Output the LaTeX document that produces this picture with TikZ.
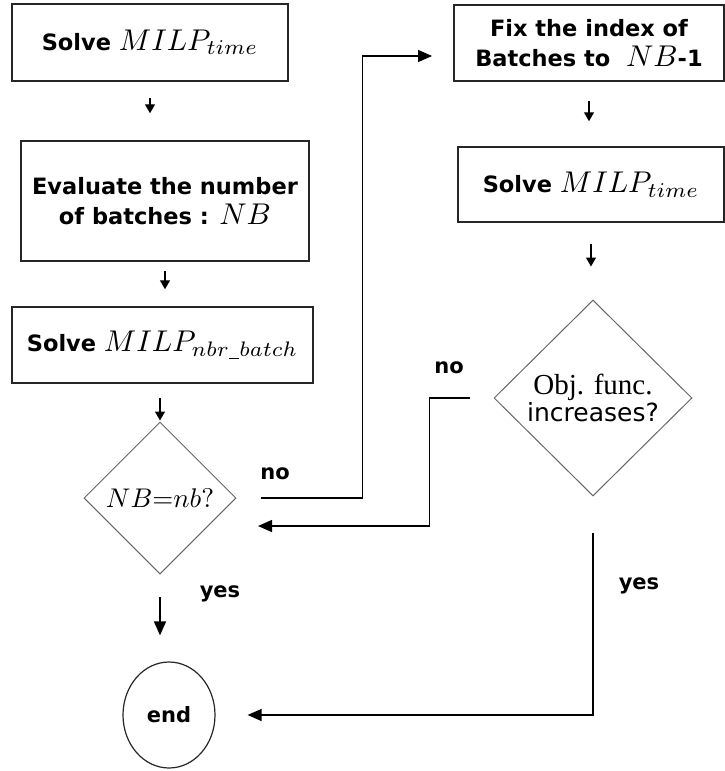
\documentclass[tikz,border=0pt]{standalone}
\usepackage{fontspec}
\usepackage{graphicx}
\usetikzlibrary{arrows.meta,shapes.geometric}
\newfontfamily\boxfont{DejaVu Sans}
\newfontfamily\serfont{Liberation Serif}
\newcommand{\bigmath}[2][3]{{\fontsize{10}{12}\selectfont\scalebox{#1}{$#2$}}}
\newcommand{\ul}{\rule[-1pt]{3.5pt}{0.35pt}}

\tikzset{
  stepbox/.style={draw=black!85, line width=1.5pt, rectangle, inner sep=0pt,
    align=center, font=\boxfont\bfseries\fontsize{22.5}{30}\selectfont},
  test/.style={draw=black!60, line width=1pt, diamond, inner sep=0pt, aspect=1},
  flow/.style={line width=1.4pt, -{Triangle[length=9pt,width=10pt]}},
  link/.style={line width=1.4pt, -{Triangle[length=14pt,width=12pt]}},
  lbl/.style={font=\boxfont\bfseries\fontsize{21}{24}\selectfont}
}

\begin{document}
\begin{tikzpicture}[x=1pt,y=-1pt]
  \useasboundingbox (0,0) rectangle (725,771);

  % left column
  \node[stepbox, minimum width=276pt, minimum height=77pt] (solveT) at (150,42.5)
    {Solve \bigmath{MILP_{time}}};
  \node[stepbox, minimum width=288pt, minimum height=120pt] (evalNB) at (165,201)
    {Evaluate the number\\of batches : \bigmath{NB}};
  \node[stepbox, minimum width=301pt, minimum height=76pt] (solveNB) at (162.5,345)
    {Solve \bigmath{MILP_{nbr\ul batch}}};
  \node[test, minimum width=152pt, minimum height=152pt] (isNB) at (160,498)
    {\bigmath[2.7]{NB{=}nb?}};
  \node[draw=black!85, line width=1.2pt, ellipse, minimum width=92pt, minimum height=106pt,
    font=\boxfont\bfseries\fontsize{21}{24}\selectfont] (endN) at (169,715) {end};

  % right column
  \node[stepbox, minimum width=270pt, minimum height=76pt] (fixNB) at (589,43)
    {Fix the index of\\Batches to\ \ \bigmath{NB}-1};
  \node[stepbox, minimum width=266pt, minimum height=75pt] (solveT2) at (591,184.5)
    {Solve \bigmath{MILP_{time}}};
  \node[test, minimum width=198pt, minimum height=196pt, align=center] (incr) at (593,398)
    {{\serfont\fontsize{29}{32}\selectfont Obj. func.}\\
     {\boxfont\fontsize{25}{30}\selectfont increases?}};

  % arrows
  \draw[flow, shorten <=16pt, shorten >=27pt] (solveT.south) -- (solveT.south |- evalNB.north);
  \draw[flow, shorten <=9pt, shorten >=17pt] (evalNB.south) -- (evalNB.south |- solveNB.north);
  \draw[flow, shorten <=14pt, shorten >=1pt] (solveNB.south -| isNB.north) -- (isNB.north);
  \draw[link, shorten <=22pt, shorten >=26pt] (isNB.south) -- (isNB.south |- endN.north);
  \draw[flow, shorten <=19pt, shorten >=25pt] (fixNB.south) -- (fixNB.south |- solveT2.north);
  \draw[flow, shorten <=21pt, shorten >=33pt] (solveT2.south) -- (solveT2.south |- incr.north);

  \coordinate (fixIn) at (432,56);
  \coordinate (backIn) at (258,526);
  \draw[link, shorten <=24pt] (isNB.east) -- ++(126,0) |- (fixIn);
  \draw[link, shorten <=24pt] (incr.west) -- ++(-64,0) |- (backIn);
  \draw[link, shorten <=36pt, shorten >=32pt] (incr.south) |- (endN.east);

  % labels
  \node[lbl] (noA) at (275,474) {no};
  \node[lbl] (noB) at (449,368) {no};
  \node[lbl] (yesA) at (220,594) {yes};
  \node[lbl] (yesB) at (639,586) {yes};
\end{tikzpicture}
\end{document}
